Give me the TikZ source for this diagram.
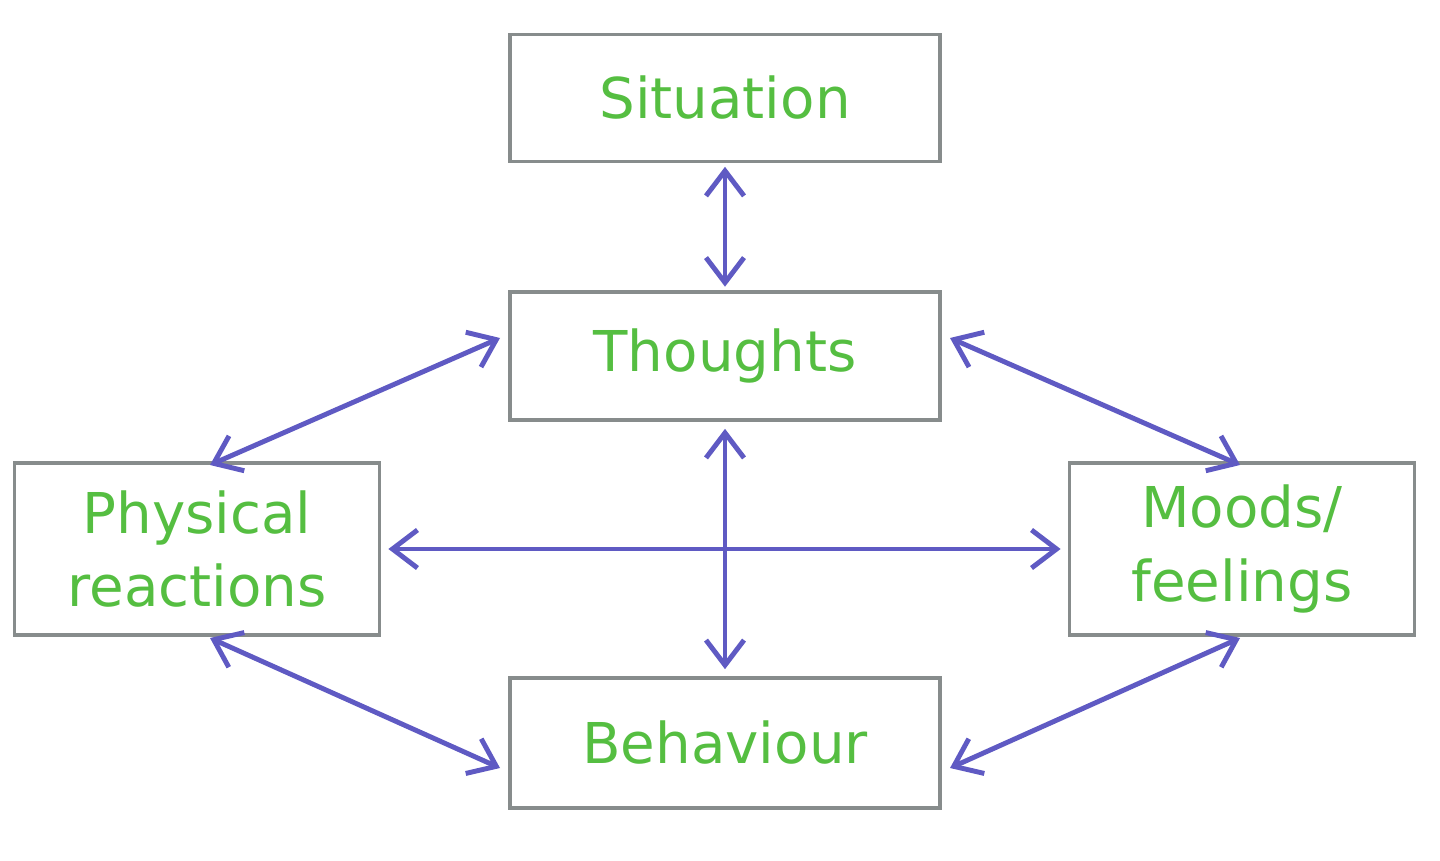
\documentclass[tikz,border=0pt]{standalone}
\usepackage{fontspec}
\setmainfont{DejaVu Sans}
\usetikzlibrary{arrows.meta}
\definecolor{boxgreen}{RGB}{85,190,65}
\definecolor{arrowblue}{RGB}{95,90,195}
\definecolor{boxgray}{RGB}{135,140,140}
\tikzset{
  box/.style={draw=boxgray, line width=1pt, text=boxgreen, align=center,
    font=\fontsize{16}{21}\selectfont, inner sep=0pt},
  link/.style={draw=arrowblue, line width=1.4pt,
    {Straight Barb[length=2.5mm,width=3.8mm]}-{Straight Barb[length=2.5mm,width=3.8mm]}}
}
\begin{document}
\begin{tikzpicture}[x=0.01cm,y=-0.01cm]
  \useasboundingbox (0,0) rectangle (1440,861);
  % boxes
  \node[box, minimum width=4.3cm, minimum height=1.27cm] (sit) at (725,98) {Situation};
  \node[box, minimum width=4.3cm, minimum height=1.28cm] (tho) at (725,356) {Thoughts};
  \node[box, minimum width=3.65cm, minimum height=1.72cm] (phy) at (197,549) {Physical\\reactions};
  \node[box, minimum width=3.45cm, minimum height=1.72cm] (moo) at (1242,549) {Moods/\\feelings};
  \node[box, minimum width=4.3cm, minimum height=1.30cm] (beh) at (725,743) {Behaviour};
  % free ends of the slanted links
  \coordinate (thoL) at (500,338);
  \coordinate (thoR) at (950,338);
  \coordinate (phyT) at (210,465);
  \coordinate (mooT) at (1240,465);
  \coordinate (phyB) at (210,638);
  \coordinate (mooB) at (1240,638);
  \coordinate (behL) at (500,768);
  \coordinate (behR) at (950,768);
  % links
  \draw[link] ([yshift=-1]sit.south) -- ([yshift=1]tho.north);
  \draw[link] ([yshift=-2]tho.south) -- ([yshift=2]beh.north);
  \draw[link] ([xshift=2]phy.east) -- ([xshift=-2]moo.west);
  \draw[link] (thoL) -- (phyT);
  \draw[link] (thoR) -- (mooT);
  \draw[link] (phyB) -- (behL);
  \draw[link] (behR) -- (mooB);
\end{tikzpicture}
\end{document}
